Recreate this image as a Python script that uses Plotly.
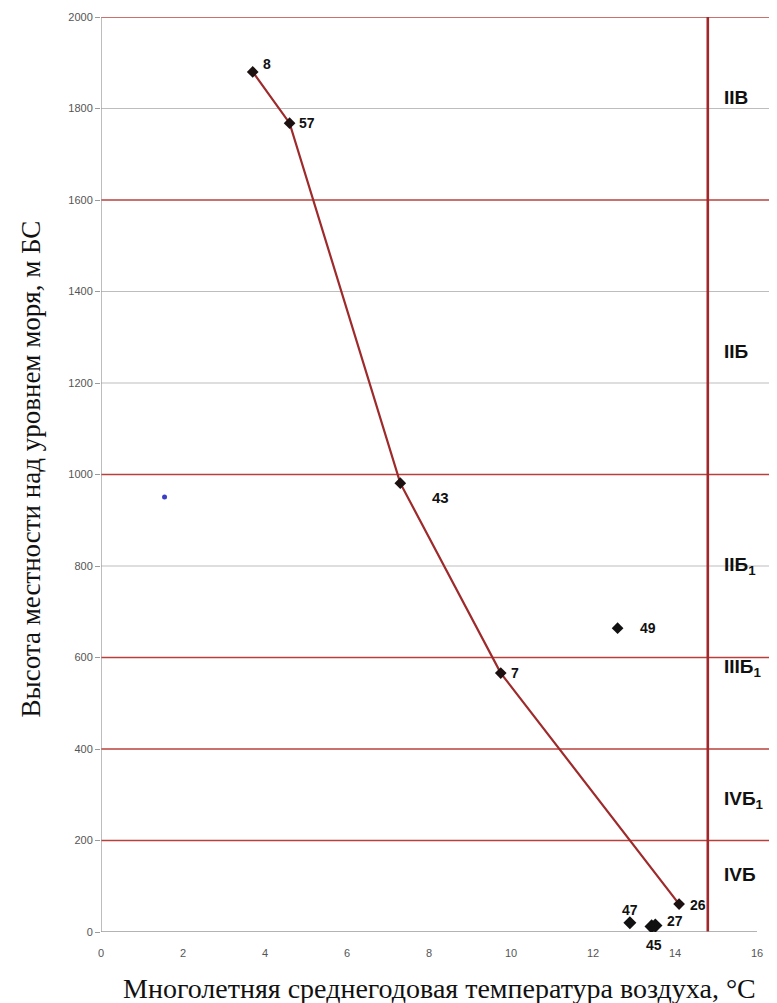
import plotly.graph_objects as go

# ---- data ----
line_ids = ["8", "57", "43", "7", "26"]
line_temp = [3.7, 4.6, 7.3, 9.75, 14.1]
line_elev = [1880, 1768, 981, 566, 61]

pt_ids = ["49", "47", "45", "27"]
pt_temp = [12.6, 12.9, 13.43, 13.52]
pt_elev = [664, 20, 12, 14]

blue_temp = [1.55]
blue_elev = [951]

red_levels = [2000, 1600, 1000, 600, 400, 200]
grey_levels = [1800, 1400, 1200, 800]
boundary_temp = 14.8

zone_labels = ["IIВ", "IIБ", "IIБ<sub>1</sub>", "IIIБ<sub>1</sub>", "IVБ<sub>1</sub>", "IVБ"]
zone_elev = [1823, 1268, 800, 577, 288, 125]

x_ticks = list(range(0, 17, 2))
y_ticks = list(range(0, 2001, 200))

# label offsets (pixels) for point labels
offsets = {"8": (14, -8), "57": (17, 0), "43": (40, 14), "7": (14, 0), "26": (19, 1),
           "49": (30, 0), "47": (0, -13), "45": (2, 18), "27": (20, -5)}
sizes = {"43": 15}

fig = go.Figure()

shapes = []
for y in grey_levels:
    shapes.append(dict(type="line", xref="paper", x0=0, x1=1, yref="y", y0=y, y1=y,
                       line=dict(color="#BDBDBD", width=1.2), layer="below"))
for y in red_levels:
    shapes.append(dict(type="line", xref="paper", x0=0, x1=1, yref="y", y0=y, y1=y,
                       line=dict(color="#B8403C", width=1.6), layer="below"))
shapes.append(dict(type="line", xref="x", x0=boundary_temp, x1=boundary_temp, yref="y", y0=0, y1=2000,
                   line=dict(color="#A3262A", width=2.6), layer="below"))
# axis lines
shapes.append(dict(type="line", xref="x", x0=0, x1=16, yref="y", y0=0, y1=0,
                   line=dict(color="#9A9A9A", width=1.3), layer="below"))
shapes.append(dict(type="line", xref="x", x0=0, x1=0, yref="y", y0=0, y1=2000,
                   line=dict(color="#9A9A9A", width=1.3), layer="below"))

fig.add_trace(go.Scatter(x=line_temp, y=line_elev, mode="lines+markers",
                         line=dict(color="#9E2A2B", width=2.2),
                         marker=dict(symbol="diamond", size=9, color="#1C1010", opacity=1),
                         showlegend=False))
fig.add_trace(go.Scatter(x=pt_temp, y=pt_elev, mode="markers",
                         marker=dict(symbol="diamond", size=[9, 10, 11, 11], color="#111111",
                                     opacity=1, line=dict(width=0)),
                         showlegend=False))
fig.add_trace(go.Scatter(x=blue_temp, y=blue_elev, mode="markers",
                         marker=dict(symbol="circle", size=5, color="#3A3FC8", opacity=1),
                         showlegend=False))

annotations = []
for ids, xs, ys in [(line_ids, line_temp, line_elev), (pt_ids, pt_temp, pt_elev)]:
    for i, x, y in zip(ids, xs, ys):
        dx, dy = offsets[i]
        annotations.append(dict(x=x, y=y, xref="x", yref="y", text=i, showarrow=False,
                                xshift=dx, yshift=-dy,
                                font=dict(family="Liberation Sans, Arial", size=sizes.get(i, 14),
                                          color="#111111", weight="bold")))
for t, y in zip(zone_labels, zone_elev):
    annotations.append(dict(x=15.6, y=y, xref="x", yref="y", text=t, showarrow=False,
                            xanchor="left", xshift=-19,
                            font=dict(family="Liberation Sans, Arial", size=19,
                                      color="#111111", weight="bold")))
annotations.append(dict(x=0.5, y=0, xref="paper", yref="paper", yanchor="middle", yshift=-56,
                        text="Многолетняя среднегодовая температура воздуха, °C", showarrow=False,
                        font=dict(family="Liberation Serif, DejaVu Serif, serif", size=28, color="#111111")))
annotations.append(dict(x=0, y=0.5, xref="paper", yref="paper", xanchor="center", xshift=-71, yshift=5,
                        text="Высота местности над уровнем моря, м БС", showarrow=False, textangle=-90,
                        font=dict(family="Liberation Serif, DejaVu Serif, serif", size=27, color="#111111")))

# page body has an 8px margin: size the figure so it ends at the window edge
fig.update_layout(
    width=769, height=995,
    margin=dict(l=93, r=0, t=9, b=71),
    paper_bgcolor="white", plot_bgcolor="white",
    shapes=shapes, annotations=annotations,
    xaxis=dict(range=[0, 676 / 41], tickvals=x_ticks, showgrid=False, zeroline=False,
               showline=False, ticks="", ticklabelstandoff=13,
               tickfont=dict(family="Liberation Sans, Arial", size=11, color="#555555")),
    yaxis=dict(range=[0, 2000], tickvals=y_ticks, showgrid=False, zeroline=False,
               showline=False, ticks="outside", ticklen=5, tickcolor="#9A9A9A",
               tickfont=dict(family="Liberation Sans, Arial", size=11, color="#555555")),
)

fig.write_html("out.html")
